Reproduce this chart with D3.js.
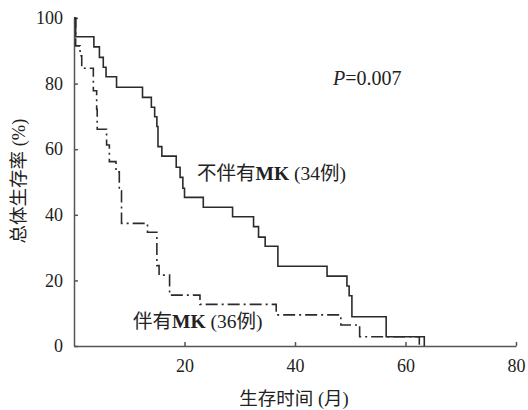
<!DOCTYPE html>
<html>
<head>
<meta charset="utf-8">
<script src="https://cdn.jsdelivr.net/npm/d3@7/dist/d3.min.js"></script>
<style>
body { margin: 0; background: #fff; }
text { fill: #222; }
.axis path, .axis line { stroke: #555; stroke-width: 1.5; }
.axis text { font-family: "Liberation Serif", serif; font-size: 18px; fill: #222; }
.cjk { font-family: "Noto Sans CJK SC", sans-serif; }
.lat { font-family: "Liberation Serif", serif; }
</style>
</head>
<body>
<script>
// survival curves: time (months) of each drop, survival (%) after it
var noMkTimes = [0.3, 3.6, 4.6, 5.3, 5.8, 7.7, 12.4, 14.0, 14.6, 15.0, 15.2, 15.9, 18.5, 19.2, 19.7, 20.0, 23.4, 28.7, 32.5, 33.4, 34.6, 36.9, 45.8, 49.4, 49.8, 50.3, 56.5, 63.4],
    noMkSurv  = [94.3, 91.2, 88.0, 85.0, 82.1, 78.9, 75.8, 72.8, 69.9, 66.9, 60.8, 57.9, 54.5, 51.4, 48.1, 45.3, 42.3, 39.4, 36.4, 33.2, 30.4, 24.3, 21.3, 18.3, 15.3, 8.9, 2.8, 0];

var mkTimes = [0.3, 1.1, 1.4, 3.5, 4.1, 4.2, 5.9, 6.4, 7.6, 8.2, 8.6, 13.3, 15.0, 15.4, 17.3, 22.8, 36.6, 48.3, 51.7, 62.5],
    mkSurv  = [91.5, 88.5, 84.7, 77.8, 72.2, 66.1, 61.3, 56.2, 53.1, 47.3, 37.4, 34.7, 24.5, 21.6, 15.5, 12.7, 9.5, 6.4, 2.8, 0];

var xTicks = [20, 40, 60, 80],
    yTicks = [0, 20, 40, 60, 80, 100];

var width = 528,
    height = 410;

var x = d3.scaleLinear().domain([0, 80]).range([74, 516]),
    y = d3.scaleLinear().domain([0, 100]).range([346, 18]);

var svg = d3.select("body").append("svg")
    .attr("width", width)
    .attr("height", height);

svg.append("g")
    .attr("class", "axis")
    .attr("transform", "translate(0," + y(0) + ")")
    .call(d3.axisBottom(x).tickValues(xTicks).tickSizeInner(-4).tickSizeOuter(0).tickPadding(13));

svg.append("g")
    .attr("class", "axis")
    .attr("transform", "translate(" + x(0) + ",0)")
    .call(d3.axisLeft(y).tickValues(yTicks).tickSizeInner(-4).tickSizeOuter(0).tickPadding(11));

function curvePoints(times, surv) {
  var pts = [[0, 100]];
  times.forEach(function(t, i) { pts.push([t, surv[i]]); });
  return pts;
}

var line = d3.line()
    .curve(d3.curveStepAfter)
    .x(function(d) { return x(d[0]); })
    .y(function(d) { return y(d[1]); });

svg.append("path")
    .attr("d", line(curvePoints(mkTimes, mkSurv)))
    .attr("fill", "none")
    .attr("stroke", "#2b2b2b")
    .attr("stroke-width", 1.6)
    .attr("stroke-dasharray", "12,4,2,4");

svg.append("path")
    .attr("d", line(curvePoints(noMkTimes, noMkSurv)))
    .attr("fill", "none")
    .attr("stroke", "#2b2b2b")
    .attr("stroke-width", 1.6);

// labels
function label(xp, yp, parts, size) {
  var t = svg.append("text")
      .attr("x", xp)
      .attr("y", yp)
      .style("font-size", size + "px");
  parts.forEach(function(p) {
    t.append("tspan")
        .attr("class", p[1])
        .style("font-weight", p[2] || null)
        .style("font-style", p[3] || null)
        .text(p[0]);
  });
  return t;
}

label(197, 180, [["不伴有", "cjk"], ["MK", "lat", "bold"], [" (34", "lat"], ["例", "cjk"], [")", "lat"]], 19.5);
label(133, 328, [["伴有", "cjk"], ["MK", "lat", "bold"], [" (36", "lat"], ["例", "cjk"], [")", "lat"]], 19.5);
label(333, 85, [["P", "lat", null, "italic"], ["=0.007", "lat"]], 20);

label(294, 405, [["生存时间", "cjk"], [" (", "lat"], ["月", "cjk"], [")", "lat"]], 18.5)
    .attr("text-anchor", "middle");

label(0, 0, [["总体生存率", "cjk"], [" (%)", "lat"]], 18.5)
    .attr("text-anchor", "middle")
    .attr("transform", "translate(25,181) rotate(-90)");
</script>
</body>
</html>
